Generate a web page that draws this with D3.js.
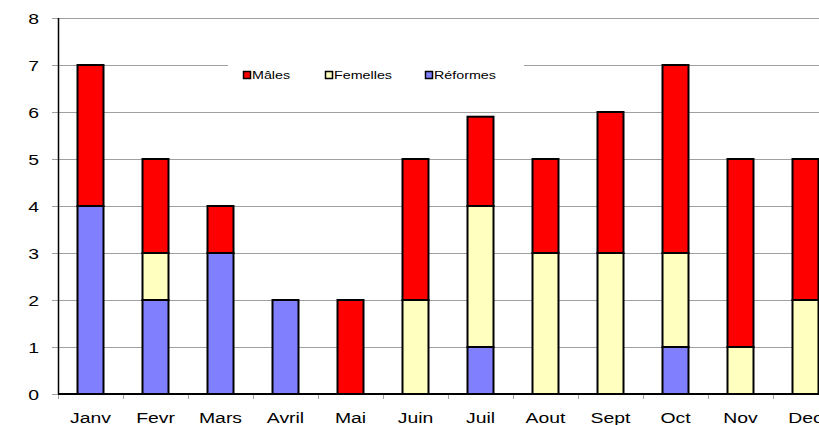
<!DOCTYPE html>
<html>
<head>
<meta charset="utf-8">
<script src="https://cdn.jsdelivr.net/npm/d3@7"></script>
<style>
  body { margin: 0; background: #fff; }
  svg { display: block; font-family: "Liberation Sans", Arial, sans-serif; }
</style>
</head>
<body>
<div id="chart"></div>
<script>
var months = ["Janv", "Fevr", "Mars", "Avril", "Mai", "Juin", "Juil", "Aout", "Sept", "Oct", "Nov", "Dec"];
var reformes = [4, 2, 3, 2, 0, 0, 1, 0, 0, 1, 0, 0];
var femelles = [0, 1, 0, 0, 0, 2, 3, 3, 3, 2, 1, 2];
var males    = [3, 2, 1, 0, 2, 3, 1.9, 2, 3, 4, 4, 3];
var yTicks = [0, 1, 2, 3, 4, 5, 6, 7, 8];

var series = [
    {name: "Réformes", values: reformes, color: "#8080FF"},
    {name: "Femelles", values: femelles, color: "#FFFFC0"},
    {name: "Mâles", values: males, color: "#FF0000"}
];
var legendOrder = ["Mâles", "Femelles", "Réformes"];

var width = 819, height = 425;
var margin = {top: 18, left: 58, bottom: 31};
var stretch = 1.25; // the text in the picture is wider than plain Arial

var svg = d3.select("#chart").append("svg")
    .attr("width", width)
    .attr("height", height);

var data = months.map(function(m, i) {
    var row = {month: m};
    series.forEach(function(s) { row[s.name] = s.values[i]; });
    return row;
});

var stacked = d3.stack().keys(series.map(function(s) { return s.name; }))(data);

// 12 bands of 65px, the last one runs past the right edge
var xScale = d3.scaleBand()
    .domain(months)
    .range([margin.left, margin.left + 65 * months.length])
    .paddingInner(0.6)
    .paddingOuter(0.3);

var yScale = d3.scaleLinear()
    .domain([0, 8])
    .range([height - margin.bottom, margin.top]);

function colorOf(name) {
    return series.find(function(s) { return s.name === name; }).color;
}

// grid lines
svg.append("g")
    .selectAll("line")
    .data(yTicks)
    .enter()
    .append("line")
    .attr("x1", margin.left - 6)
    .attr("x2", width)
    .attr("y1", function(d) { return Math.round(yScale(d)) + 0.5; })
    .attr("y2", function(d) { return Math.round(yScale(d)) + 0.5; })
    .attr("stroke", "#A0A0A0")
    .attr("stroke-width", 1);

// y labels
svg.append("g")
    .selectAll("text")
    .data(yTicks)
    .enter()
    .append("text")
    .attr("transform", function(d) { return "translate(39," + (yScale(d) + 5.5) + ") scale(" + stretch + ",1)"; })
    .attr("text-anchor", "end")
    .attr("font-size", "15.5px")
    .attr("fill", "#000")
    .text(function(d) { return d; });

// x axis tick marks at band boundaries
var step = xScale.step();
svg.append("g")
    .selectAll("line")
    .data(d3.range(months.length + 1))
    .enter()
    .append("line")
    .attr("x1", function(i) { return margin.left + i * step + 0.5; })
    .attr("x2", function(i) { return margin.left + i * step + 0.5; })
    .attr("y1", yScale(0))
    .attr("y2", yScale(0) + 5)
    .attr("stroke", "#A0A0A0");

// legend box
var legend = svg.append("g");
legend.append("rect")
    .attr("x", 228)
    .attr("y", 55)
    .attr("width", 296)
    .attr("height", 36)
    .attr("fill", "#fff");

var legendX = d3.scaleOrdinal().domain(legendOrder).range([243, 325, 425]);
var legendItem = legend.selectAll(".item")
    .data(legendOrder)
    .enter()
    .append("g")
    .attr("class", "item")
    .attr("transform", function(d) { return "translate(" + legendX(d) + ",71)"; });
legendItem.append("rect")
    .attr("x", 0.5)
    .attr("y", 0.5)
    .attr("width", 7)
    .attr("height", 7)
    .attr("fill", function(d) { return colorOf(d); })
    .attr("stroke", "#000")
    .attr("stroke-width", 1.5);
legendItem.append("text")
    .attr("transform", "translate(9,8) scale(1.3,1)")
    .attr("font-size", "11px")
    .attr("fill", "#000")
    .text(function(d) { return d; });

// bars
svg.append("g")
    .selectAll("g")
    .data(stacked)
    .enter()
    .append("g")
    .attr("fill", function(d) { return colorOf(d.key); })
    .selectAll("rect")
    .data(function(d) { return d.filter(function(p) { return p[1] > p[0]; }); })
    .enter()
    .append("rect")
    .attr("x", function(d) { return xScale(d.data.month); })
    .attr("y", function(d) { return yScale(d[1]); })
    .attr("width", xScale.bandwidth())
    .attr("height", function(d) { return yScale(d[0]) - yScale(d[1]); })
    .attr("stroke", "#000")
    .attr("stroke-width", 2);

// axis lines
svg.append("line")
    .attr("x1", margin.left + 0.5)
    .attr("x2", margin.left + 0.5)
    .attr("y1", yScale(8))
    .attr("y2", yScale(0))
    .attr("stroke", "#000")
    .attr("stroke-width", 1.5);
svg.append("line")
    .attr("x1", margin.left)
    .attr("x2", width)
    .attr("y1", yScale(0))
    .attr("y2", yScale(0))
    .attr("stroke", "#000")
    .attr("stroke-width", 2);

// month labels
svg.append("g")
    .selectAll("text")
    .data(months)
    .enter()
    .append("text")
    .attr("transform", function(d) { return "translate(" + (xScale(d) + xScale.bandwidth() / 2) + ",423) scale(" + stretch + ",1)"; })
    .attr("text-anchor", "middle")
    .attr("font-size", "15.5px")
    .attr("fill", "#000")
    .text(function(d) { return d; });
</script>
</body>
</html>
